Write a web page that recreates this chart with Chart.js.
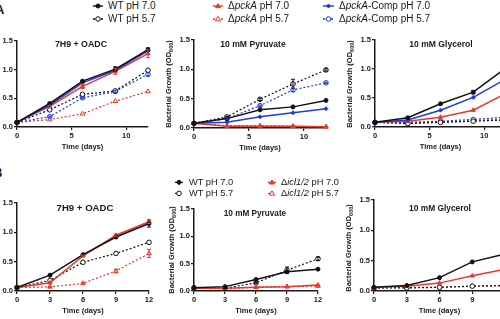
<!DOCTYPE html>
<html><head><meta charset="utf-8">
<script src="https://cdn.jsdelivr.net/npm/chart.js@4.4.1/dist/chart.umd.min.js"></script>
<style>
html,body{margin:0;padding:0;background:#fff;width:500px;height:319px;overflow:hidden;position:relative;font-family:"Liberation Sans",Arial,sans-serif;color:#1a1a1a}
canvas{position:absolute}
.t{position:absolute;white-space:nowrap;font-weight:bold;transform:translate(-50%,-50%);line-height:1}
.yt{position:absolute;white-space:nowrap;font-weight:bold;font-size:7.5px;line-height:1;transform:translate(-50%,-50%) rotate(-90deg)}
.yt sub{font-size:5.5px;vertical-align:-2px}
.lg{position:absolute;white-space:nowrap;line-height:1;transform:translateY(-50%);display:flex;align-items:center}
.lg svg{display:block}
.let{position:absolute;font-weight:bold;font-size:13px;line-height:1}
</style></head><body>
<script>
// ---------------- DATA ----------------
const DAYS = [0, 3, 6, 9, 12];
const TOP_X_TICKS = [0, 5, 10];
const BOT_X_TICKS = [0, 3, 6, 9, 12];
const Y_TICKS = [0, 0.5, 1.0, 1.5];

// Panel A – 7H9 + OADC
const A_OADC_WT70   = [0.08, 0.41, 0.80, 1.01, 1.35];
const A_OADC_WT57   = [0.08, 0.30, 0.57, 0.63, 0.99];
const A_OADC_PCK70  = [0.08, 0.36, 0.71, 0.97, 1.28];
const A_OADC_PCK57  = [0.08, 0.13, 0.23, 0.45, 0.62];
const A_OADC_COMP70 = [0.08, 0.38, 0.77, 0.99, 1.33];
const A_OADC_COMP57 = [0.08, 0.18, 0.51, 0.62, 0.92];
const A_OADC_WT70_ERR  = [0, 0.01, 0.01, 0.04, 0.03];
const A_OADC_PCK70_ERR = [0, 0.02, 0.04, 0.05, 0.07];
const A_OADC_COMP57_ERR = [0, 0.01, 0.01, 0.02, 0.03];

// Panel A – 10 mM Pyruvate
const A_PYR_WT70   = [0.08, 0.16, 0.31, 0.36, 0.47];
const A_PYR_WT57   = [0.08, 0.19, 0.49, 0.75, 0.99];
const A_PYR_PCK70  = [0.08, 0.03, 0.03, 0.03, 0.02];
const A_PYR_PCK57  = [0.08, 0.04, 0.04, 0.03, 0.02];
const A_PYR_COMP70 = [0.08, 0.10, 0.19, 0.26, 0.33];
const A_PYR_COMP57 = [0.08, 0.16, 0.38, 0.65, 0.77];
const A_PYR_WT57_ERR   = [0, 0.01, 0.02, 0.08, 0.02];
const A_PYR_COMP57_ERR = [0, 0.01, 0.01, 0.03, 0.01];

// Panel A – 10 mM Glycerol
const A_GLY_WT70   = [0.08, 0.16, 0.40, 0.60, 1.02];
const A_GLY_WT57   = [0.08, 0.06, 0.08, 0.10, 0.12];
const A_GLY_PCK70  = [0.08, 0.10, 0.17, 0.29, 0.58];
const A_GLY_PCK57  = [0.08, 0.07, 0.08, 0.11, 0.14];
const A_GLY_COMP70 = [0.08, 0.12, 0.29, 0.51, 0.83];
const A_GLY_COMP57 = [0.08, 0.08, 0.10, 0.13, 0.17];
const A_GLY_WT70_ERR = [0, 0.01, 0.01, 0.03, 0.02];

// Panel B – 7H9 + OADC
const B_OADC_WT70  = [0.06, 0.27, 0.62, 0.92, 1.15];
const B_OADC_WT57  = [0.06, 0.18, 0.49, 0.64, 0.83];
const B_OADC_ICL70 = [0.06, 0.14, 0.60, 0.95, 1.18];
const B_OADC_ICL57 = [0.06, 0.07, 0.13, 0.34, 0.64];
const B_OADC_WT70_ERR  = [0, 0.01, 0.01, 0.02, 0.06];
const B_OADC_ICL70_ERR = [0, 0.01, 0.01, 0.02, 0.03];
const B_OADC_ICL57_ERR = [0, 0.01, 0.01, 0.03, 0.07];

// Panel B – 10 mM Pyruvate
const B_PYR_WT70  = [0.06, 0.08, 0.21, 0.35, 0.40];
const B_PYR_WT57  = [0.06, 0.05, 0.15, 0.38, 0.59];
const B_PYR_ICL70 = [0.05, 0.05, 0.07, 0.08, 0.11];
const B_PYR_ICL57 = [0.05, 0.04, 0.07, 0.08, 0.09];
const B_PYR_WT57_ERR = [0, 0.01, 0.01, 0.06, 0.03];

// Panel B – 10 mM Glycerol
const B_GLY_WT70  = [0.06, 0.09, 0.22, 0.48, 0.61];
const B_GLY_WT57  = [0.05, 0.05, 0.06, 0.08, 0.09];
const B_GLY_ICL70 = [0.06, 0.08, 0.13, 0.25, 0.36];
const B_GLY_ICL57 = [0.05, 0.06, 0.06, 0.08, 0.09];

// ---------------- STYLE ----------------
const AX = '#1a1a1a';
const BLK = '#111111', RED = '#e8392c', BLU = '#2139e0';
const ST = {
  WT70:   {c: BLK, dash: [], ps: 'circle', fill: true, r: 2},
  WT57:   {c: BLK, dash: [2, 2], ps: 'circle', fill: false, r: 2.3},
  MUT70:  {c: RED, dash: [], ps: 'triangle', fill: true, r: 2.4},
  MUT57:  {c: RED, dash: [2, 2], ps: 'triangle', fill: false, r: 2.6},
  COMP70: {c: BLU, dash: [], ps: 'rectRot', fill: true, r: 2},
  COMP57: {c: BLU, dash: [2, 2], ps: 'circle', fill: false, r: 2.3}
};

const errPlugin = {
  id: 'err',
  afterDatasetsDraw(chart) {
    const ctx = chart.ctx, ys = chart.scales.y;
    chart.data.datasets.forEach((ds, di) => {
      if (!ds.errors) return;
      const meta = chart.getDatasetMeta(di);
      ctx.save();
      ctx.strokeStyle = ds.borderColor; ctx.lineWidth = 1; ctx.setLineDash([]);
      meta.data.forEach((pt, i) => {
        const e = ds.errors[i]; if (!e) return;
        const v = ds.data[i].y;
        const y1 = ys.getPixelForValue(v + e), y2 = ys.getPixelForValue(v - e);
        ctx.beginPath();
        ctx.moveTo(pt.x, y1); ctx.lineTo(pt.x, y2);
        ctx.moveTo(pt.x - 2, y1); ctx.lineTo(pt.x + 2, y1);
        ctx.moveTo(pt.x - 2, y2); ctx.lineTo(pt.x + 2, y2);
        ctx.stroke();
      });
      ctx.restore();
    });
  }
};

function ds(key, vals, errs) {
  const s = ST[key];
  return {
    data: DAYS.map((d, i) => ({x: d, y: vals[i]})),
    errors: errs || null,
    borderColor: s.c, borderWidth: s.dash.length ? 1.2 : 1.5, borderDash: s.dash,
    pointStyle: s.ps, pointRadius: s.r, pointBorderWidth: 1,
    pointBackgroundColor: s.fill ? s.c : '#ffffff', pointBorderColor: s.c,
    tension: 0, fill: false, clip: false
  };
}

function panel(box, xTicks, sets) {
  const Wy = 22, padT = 8, padR = 12, Hx = 24;
  const w = Wy + (box.r - box.l) + padR, h = padT + (box.b - box.t) + Hx;
  const c = document.createElement('canvas');
  c.width = w; c.height = h;
  c.style.left = (box.l - Wy) + 'px'; c.style.top = (box.t - padT) + 'px';
  c.style.width = w + 'px'; c.style.height = h + 'px';
  document.body.appendChild(c);
  const tickFont = {family: '"Liberation Sans", Arial, sans-serif', size: 7.5, weight: 'bold'};
  new Chart(c, {
    type: 'line',
    data: {datasets: sets},
    plugins: [errPlugin],
    options: {
      responsive: false, animation: false, devicePixelRatio: 1,
      layout: {padding: {left: 0, top: padT, right: padR, bottom: 0}},
      plugins: {legend: {display: false}, tooltip: {enabled: false}},
      scales: {
        x: {
          type: 'linear', min: 0, max: 12,
          afterFit: s => { s.height = Hx; },
          afterBuildTicks: s => { s.ticks = xTicks.map(v => ({value: v})); },
          grid: {drawOnChartArea: false, drawTicks: true, tickLength: 3, color: AX, lineWidth: 1.2},
          border: {display: true, color: AX, width: 1.5},
          ticks: {padding: 1.5, font: tickFont, color: AX, maxRotation: 0},
          title: {display: true, text: 'Time (days)', padding: 0, font: tickFont, color: AX}
        },
        y: {
          min: 0, max: 1.5,
          afterFit: s => { s.width = Wy; },
          afterBuildTicks: s => { s.ticks = Y_TICKS.map(v => ({value: v})); },
          grid: {drawOnChartArea: false, drawTicks: true, tickLength: 3, color: AX, lineWidth: 1.2},
          border: {display: true, color: AX, width: 1.5},
          ticks: {padding: 1, font: tickFont, color: AX, callback: v => Number(v).toFixed(1)}
        }
      }
    }
  });
}

// ---------------- PANELS ----------------
panel({l: 17, r: 148, t: 41, b: 127}, TOP_X_TICKS, [
  ds('WT70', A_OADC_WT70, A_OADC_WT70_ERR), ds('COMP70', A_OADC_COMP70), ds('MUT70', A_OADC_PCK70, A_OADC_PCK70_ERR),
  ds('WT57', A_OADC_WT57), ds('COMP57', A_OADC_COMP57, A_OADC_COMP57_ERR), ds('MUT57', A_OADC_PCK57)
]);
panel({l: 194, r: 326, t: 40, b: 128}, TOP_X_TICKS, [
  ds('WT70', A_PYR_WT70), ds('COMP70', A_PYR_COMP70), ds('MUT70', A_PYR_PCK70),
  ds('WT57', A_PYR_WT57, A_PYR_WT57_ERR), ds('COMP57', A_PYR_COMP57, A_PYR_COMP57_ERR), ds('MUT57', A_PYR_PCK57)
]);
panel({l: 375, r: 506, t: 40, b: 127}, TOP_X_TICKS, [
  ds('WT70', A_GLY_WT70, A_GLY_WT70_ERR), ds('COMP70', A_GLY_COMP70), ds('MUT70', A_GLY_PCK70),
  ds('WT57', A_GLY_WT57), ds('COMP57', A_GLY_COMP57), ds('MUT57', A_GLY_PCK57)
]);
panel({l: 17, r: 149, t: 203, b: 291}, BOT_X_TICKS, [
  ds('WT70', B_OADC_WT70, B_OADC_WT70_ERR), ds('MUT70', B_OADC_ICL70, B_OADC_ICL70_ERR),
  ds('WT57', B_OADC_WT57), ds('MUT57', B_OADC_ICL57, B_OADC_ICL57_ERR)
]);
panel({l: 194, r: 318, t: 209, b: 291}, BOT_X_TICKS, [
  ds('WT70', B_PYR_WT70), ds('MUT70', B_PYR_ICL70),
  ds('WT57', B_PYR_WT57, B_PYR_WT57_ERR), ds('MUT57', B_PYR_ICL57)
]);
panel({l: 374, r: 505, t: 200, b: 291}, BOT_X_TICKS, [
  ds('WT70', B_GLY_WT70), ds('MUT70', B_GLY_ICL70),
  ds('WT57', B_GLY_WT57), ds('MUT57', B_GLY_ICL57)
]);

// ---------------- TEXT ----------------
function txt(cls, x, y, html, size) {
  const d = document.createElement('div');
  d.className = cls; d.style.left = x + 'px'; d.style.top = y + 'px';
  if (size) d.style.fontSize = size + 'px';
  d.innerHTML = html; document.body.appendChild(d); return d;
}
txt('t', 81, 43.5, '7H9 + OADC', 8.8);
txt('t', 253, 43.5, '10 mM Pyruvate', 8.6);
txt('t', 441, 43.5, '10 mM Glycerol', 8.6);
txt('t', 85, 208, '7H9 + OADC', 9.6);
txt('t', 255, 214, '10 mM Pyruvate', 8.2);
txt('t', 440, 208, '10 mM Glycerol', 8.4);
const YT = 'Bacterial Growth (OD<sub>600</sub>)';
txt('yt', 170, 84, YT);
txt('yt', 351, 84, YT);
txt('yt', 173, 250, YT);
txt('yt', 350, 248, YT);
txt('let', -5, 3, 'A');
txt('let', -7, 166, 'B');

function marker(key, w) {
  const s = ST[key];
  const fill = s.fill ? s.c : '#fff';
  const dash = s.dash.length ? 'stroke-dasharray="2,2"' : '';
  const cx = w / 2;
  let m;
  if (s.ps === 'circle') m = `<circle cx="${cx}" cy="4" r="${s.r}" fill="${fill}" stroke="${s.c}" stroke-width="1"/>`;
  else if (s.ps === 'triangle') m = `<polygon points="${cx},${4 - s.r} ${cx + s.r},${4 + s.r * 0.7} ${cx - s.r},${4 + s.r * 0.7}" fill="${fill}" stroke="${s.c}" stroke-width="1"/>`;
  else m = `<polygon points="${cx},${4 - s.r} ${cx + s.r},4 ${cx},${4 + s.r} ${cx - s.r},4" fill="${fill}" stroke="${s.c}" stroke-width="1"/>`;
  return `<svg width="${w}" height="8"><line x1="0" y1="4" x2="${w}" y2="4" stroke="${s.c}" stroke-width="1.4" ${dash}/>${m}</svg>`;
}
function leg(x, y, key, w, gap, html, size) {
  const d = txt('lg', x, y, marker(key, w) + `<span style="margin-left:${gap}px">${html}</span>`, size);
  return d;
}
// top legend (panel A)
leg(93, 6, 'WT70', 10, 5, 'WT pH 7.0', 10);
leg(93, 18.5, 'WT57', 10, 5, 'WT pH 5.7', 10);
leg(213, 6, 'MUT70', 10, 5, 'Δ<i>pckA</i> pH 7.0', 10);
leg(213, 18.5, 'MUT57', 10, 5, 'Δ<i>pckA</i> pH 5.7', 10);
leg(323, 6, 'COMP70', 11, 5, 'Δ<i>pckA</i>-Comp pH 7.0', 10);
leg(323, 18.5, 'COMP57', 11, 5, 'Δ<i>pckA</i>-Comp pH 5.7', 10);
// bottom legend (panel B)
leg(175, 182.5, 'WT70', 8, 6, 'WT pH 7.0', 9.3);
leg(175, 193.5, 'WT57', 8, 6, 'WT pH 5.7', 9.3);
leg(268, 182.5, 'MUT70', 8, 5, 'Δ<i>icl1/2</i> pH 7.0', 9.3);
leg(268, 193.5, 'MUT57', 8, 5, 'Δ<i>icl1/2</i> pH 5.7', 9.3);
</script>
</body></html>
